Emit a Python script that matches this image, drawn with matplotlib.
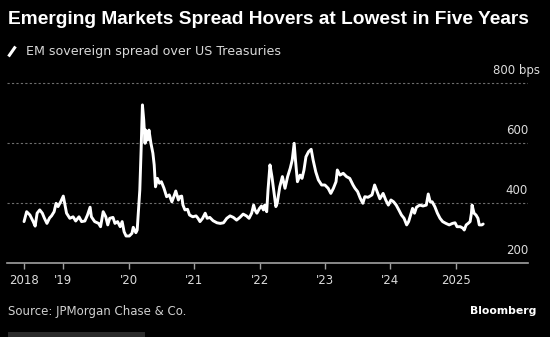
import matplotlib
matplotlib.use("Agg")
import matplotlib.pyplot as plt
from matplotlib.lines import Line2D
from matplotlib.patches import Rectangle
import numpy as np

# ---- data (decimal years, bps) ----
years = [2018.40, 2018.44, 2018.49, 2018.54, 2018.57, 2018.60, 2018.64, 2018.68, 2018.71, 2018.75,
         2018.79, 2018.82, 2018.86, 2018.89, 2018.92, 2018.96, 2019.00, 2019.03, 2019.05, 2019.10,
         2019.15, 2019.19, 2019.24, 2019.28, 2019.33, 2019.37, 2019.41, 2019.43, 2019.48, 2019.54,
         2019.57, 2019.61, 2019.65, 2019.68, 2019.71, 2019.76, 2019.79, 2019.83, 2019.87, 2019.90,
         2019.93, 2019.96, 2020.01, 2020.05, 2020.07, 2020.11, 2020.13, 2020.15, 2020.17, 2020.19,
         2020.21, 2020.23, 2020.25, 2020.26, 2020.29, 2020.31, 2020.34, 2020.37, 2020.39, 2020.41,
         2020.44, 2020.47, 2020.50, 2020.54, 2020.58, 2020.62, 2020.66, 2020.69, 2020.72, 2020.76,
         2020.78, 2020.81, 2020.83, 2020.86, 2020.90, 2020.93, 2020.98, 2021.03, 2021.06, 2021.09,
         2021.13, 2021.17, 2021.20, 2021.24, 2021.29, 2021.35, 2021.40, 2021.45, 2021.50, 2021.55,
         2021.60, 2021.65, 2021.70, 2021.75, 2021.80, 2021.84, 2021.88, 2021.91, 2021.93, 2021.96,
         2022.00, 2022.03, 2022.06, 2022.08, 2022.11, 2022.13, 2022.16, 2022.19, 2022.21, 2022.25,
         2022.27, 2022.31, 2022.35, 2022.39, 2022.43, 2022.47, 2022.50, 2022.53, 2022.55, 2022.58,
         2022.62, 2022.65, 2022.68, 2022.71, 2022.75, 2022.79, 2022.82, 2022.86, 2022.90, 2022.95,
         2023.00, 2023.05, 2023.09, 2023.13, 2023.17, 2023.19, 2023.23, 2023.28, 2023.33, 2023.38,
         2023.43, 2023.46, 2023.50, 2023.54, 2023.58, 2023.61, 2023.66, 2023.72, 2023.76, 2023.79,
         2023.84, 2023.89, 2023.93, 2023.97, 2024.01, 2024.05, 2024.09, 2024.13, 2024.17, 2024.21,
         2024.25, 2024.28, 2024.31, 2024.34, 2024.37, 2024.40, 2024.45, 2024.50, 2024.55, 2024.58,
         2024.61, 2024.64, 2024.68, 2024.72, 2024.76, 2024.80, 2024.85, 2024.90, 2024.95, 2024.99,
         2025.02, 2025.07, 2025.11, 2025.13, 2025.16, 2025.19, 2025.22, 2025.24, 2025.25, 2025.28,
         2025.31, 2025.34, 2025.36, 2025.40, 2025.42]
spread = [339, 372, 361, 339, 324, 367, 378, 367, 351, 333,
          351, 358, 372, 400, 389, 405, 424, 389, 367, 350,
          355, 341, 355, 339, 341, 361, 387, 355, 339, 333,
          322, 372, 355, 328, 350, 353, 333, 339, 322, 339,
          305, 291, 291, 300, 320, 302, 311, 378, 444, 578,
          728, 678, 600, 644, 611, 644, 600, 567, 528, 455,
          483, 467, 472, 450, 422, 428, 405, 422, 441, 411,
          422, 424, 394, 378, 380, 361, 355, 358, 350, 339,
          350, 367, 350, 353, 342, 335, 333, 335, 350, 358,
          353, 344, 353, 364, 358, 350, 367, 394, 378, 367,
          383, 391, 378, 394, 372, 444, 528, 489, 455, 389,
          400, 455, 489, 450, 489, 517, 544, 600, 544, 472,
          494, 483, 511, 555, 572, 580, 544, 505, 478, 461,
          461, 450, 433, 450, 472, 511, 494, 500, 489, 483,
          461, 450, 439, 417, 400, 422, 420, 428, 461, 444,
          415, 433, 411, 394, 411, 405, 394, 378, 361, 350,
          328, 339, 361, 383, 367, 387, 394, 391, 394, 431,
          405, 405, 389, 367, 350, 339, 333, 328, 333, 335,
          322, 322, 317, 311, 328, 333, 339, 367, 394, 367,
          361, 350, 328, 328, 331]

tick_pos = [2018.40, 2019, 2020, 2021, 2022, 2023, 2024, 2025]
tick_labels = ["2018", "'19", "'20", "'21", "'22", "'23", "'24", "2025"]
y_levels = [400, 600, 800]
y_labels = {200: "200", 400: "400", 600: "600", 800: "800 bps"}

W, H = 550, 337
fig = plt.figure(figsize=(W / 100, H / 100), dpi=100, facecolor="black")

def px(x, y):
    return x / W, 1 - y / H

# axes layout
x0, x1 = 6.7, 528.0
yb, yt = 263.3, 68.3
ax = fig.add_axes([x0 / W, 1 - yb / H, (x1 - x0) / W, (yb - yt) / H])
ax.set_facecolor("black")
ax.set_xlim(2018.135, 2026.105)
ax.set_ylim(200, 850)

for lv in y_levels:
    ax.axhline(lv, color="#6e6e6e", lw=0.8, ls=(0, (2, 2)), zorder=1)

ax.plot(years, spread, color="white", lw=2.1, solid_joinstyle="round",
        solid_capstyle="round", zorder=3)

for s in ["top", "left", "right"]:
    ax.spines[s].set_visible(False)
ax.spines["bottom"].set_color("#a0a0a0")
ax.spines["bottom"].set_linewidth(1.2)
ax.set_yticks([])
ax.set_xticks(tick_pos)
ax.set_xticklabels(tick_labels)
ax.tick_params(axis="x", direction="out", length=4, width=1, color="#a0a0a0",
               labelcolor="#dcdcdc", labelsize=8.5, pad=4)

# right-side value labels, above gridlines
for v, lab in y_labels.items():
    if v == 800:
        fig.text(540 / W, 1 - (v_px := yb - (v - 200) * 0.3 - 13) / H, lab,
                 ha="right", va="center", color="#dcdcdc", fontsize=8.5)
    else:
        vp = yb - (v - 200) * 0.3 - 13
        fig.text(528 / W, 1 - vp / H, lab, ha="right", va="center",
                 color="#dcdcdc", fontsize=8.5)

renderer = fig.canvas.get_renderer()

def fit_text(x, y, s, width, **kw):
    t = fig.text(*px(x, y), s, ha="left", va="center", **kw)
    fs = t.get_fontsize()
    for _ in range(3):
        w = t.get_window_extent(renderer=renderer).width
        fs = fs * width / w
        t.set_fontsize(fs)
    return t

fit_text(7.7, 19, "Emerging Markets Spread Hovers at Lowest in Five Years", 521,
         color="white", fontweight="bold", fontsize=12, family="Liberation Sans")
fit_text(26, 51, "EM sovereign spread over US Treasuries", 256,
         color="#d8d8d8", fontsize=9)
fit_text(7.5, 311, "Source: JPMorgan Chase & Co.", 179, color="#d0d0d0", fontsize=8.5)
fit_text(470, 311.5, "Bloomberg", 67, color="white", fontweight="bold", fontsize=8.5)

# slash icon
fig.add_artist(Line2D([8.5 / W, 15.5 / W], [1 - 56.5 / H, 1 - 46.5 / H],
                      color="white", lw=2.2, solid_capstyle="butt"))
# bottom dark bar
fig.add_artist(Rectangle((8 / W, 0), (144.7 - 8) / W, (337 - 331.7) / H,
                         facecolor="#2b2b2b", edgecolor="none"))

fig.savefig("out.png", dpi=100, facecolor="black")
